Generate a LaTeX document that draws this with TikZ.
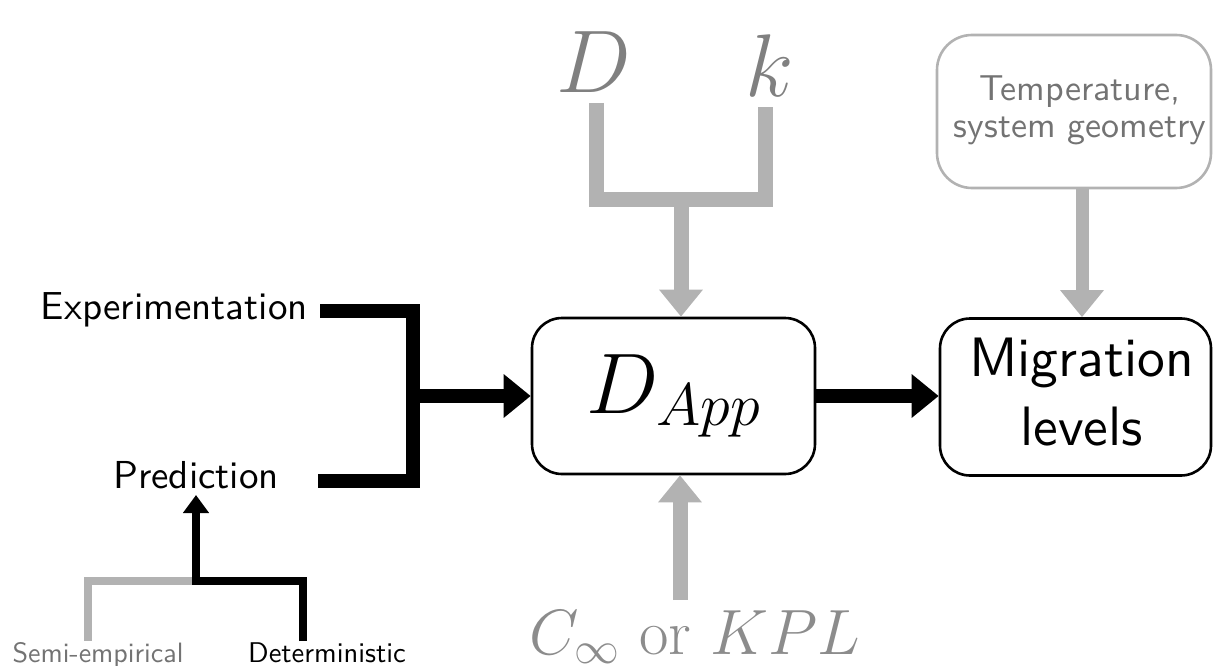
\RequirePackage{fix-cm}
\documentclass[tikz,border=0pt]{standalone}
\usepackage{graphicx}
\usetikzlibrary{arrows.meta}
\newcommand\bigtxt[2]{\scalebox{#1}{#2}}
\newcommand\twolines[3]{\hspace*{12pt}\scalebox{#1}{\begin{tabular}{@{}c@{}}#2\\#3\end{tabular}}}
\begin{document}
\begin{tikzpicture}[x=1pt,y=-1pt,line join=miter,
  box/.style={draw,rounded corners=30pt,line width=2.6pt,inner sep=0pt},
  lbl/.style={inner sep=0pt,font=\sffamily\fontsize{10}{12}\selectfont},
  blk/.style={line width=14pt,draw=black},
  gry/.style={line width=15pt,draw=black!30},
  bigtip/.style={-{Triangle[length=27pt,width=42pt]}},
  smalltip/.style={-{Triangle[length=18pt,width=25pt]}}]
\useasboundingbox (0,0) rectangle (1213,666);

% boxes
\node[box,minimum width=283pt,minimum height=156pt,font=\fontsize{86}{100}\selectfont] (dapp) at (673.5,396) {$D_{App}$};
\node[box,minimum width=271pt,minimum height=157pt,font=\sffamily\fontsize{10}{12.5}\selectfont] (mig) at (1075.5,397) {\twolines{5.55}{Migration}{levels}};
\node[box,draw=black!30,text=black!55,rounded corners=35pt,minimum width=274pt,minimum height=153pt,font=\sffamily\fontsize{10}{10.4}\selectfont] (temp) at (1074,111.5) {\twolines{3.6}{Temperature,}{system geometry}};

% labels
\node[lbl,anchor=base east] (exp) at (308,319) {\bigtxt{3.9}{Experimentation}};
\node[lbl,anchor=base] (pred) at (196,488) {\bigtxt{3.9}{Prediction}};
\node[lbl,anchor=base,text=black!55] (semi) at (98,662) {\bigtxt{2.8}{Semi-empirical}};
\node[lbl,anchor=base] (det) at (327,662) {\bigtxt{2.85}{Deterministic}};
\node[inner sep=0pt,anchor=base,text=black!50,font=\fontsize{89}{100}\selectfont] (D) at (594,93) {$D$};
\node[inner sep=0pt,anchor=base,text=black!50,font=\fontsize{89}{100}\selectfont] (k) at (770,97) {$k$};
\node[inner sep=0pt,anchor=base,text=black!45,font=\fontsize{64}{76}\selectfont] (cinf) at (695,654) {$C_\infty$ or $KPL$};

% coordinates
\coordinate (e1) at (320,311);
\coordinate (br) at (413,481);
\coordinate (p1) at (318,481);
\coordinate (jm) at (413,396);
\coordinate (d1) at (596,103);
\coordinate (dk) at (596,199);
\coordinate (k1) at (765,107);
\coordinate (fk) at (681,199);
\coordinate (c1) at (680,600);
\coordinate (t1) at (1082,188);
\coordinate (s1) at (88,641);
\coordinate (s2) at (196,581);
\coordinate (s3) at (303,641);
\coordinate (pt) at (196,495);

% black bracket
\draw[blk] (e1) -| (br) -- (p1);
\draw[blk,bigtip] (jm) -- (jm -| dapp.west);
\draw[blk,bigtip] (dapp.east) -- (dapp.east -| mig.west);

% gray fork
\draw[gry] (d1) |- (k1 |- dk) -- (k1);
\draw[gry,bigtip] (fk) -- (fk |- dapp.north);
\draw[gry,bigtip] (c1) -- (c1 |- dapp.south);
\draw[gry,line width=13pt,bigtip] (t1) -- (t1 |- mig.north);

% prediction tree
\draw[line width=8.5pt,draw=black!30] (s1) |- (s2);
\draw[line width=8.5pt,smalltip] (s3) |- (s2) -- (pt);
\end{tikzpicture}
\end{document}
